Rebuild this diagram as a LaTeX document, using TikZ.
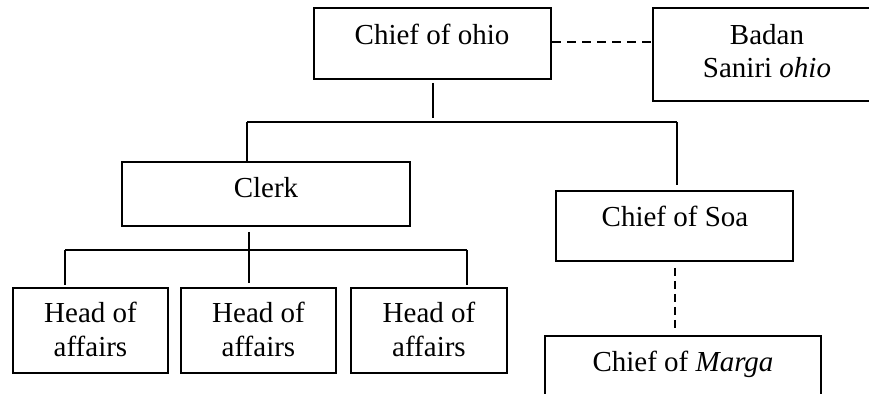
\documentclass[tikz,border=0pt]{standalone}
\usepackage{fontspec}
\setmainfont{Liberation Serif}
\usetikzlibrary{calc}
\begin{document}
\begin{tikzpicture}[x=0.5pt,y=-0.5pt,
  box/.style={draw=black, line width=1pt, inner sep=0pt},
  txt/.style={anchor=base, inner sep=0pt, font=\fontsize{14.5}{17}\selectfont},
  conn/.style={draw=black, line width=1pt},
  dashh/.style={conn, dash pattern=on 4.5pt off 3pt},
  dashv/.style={conn, dash pattern=on 4pt off 2.5pt}]
\useasboundingbox (0,0) rectangle (869,394);
\clip (0,0) rectangle (869,394);
% boxes
\node[box, minimum width=118.5pt, minimum height=35.5pt] (ohio) at (432.5,43.5) {};
\node[box, minimum width=114pt, minimum height=46.5pt] (badan) at (767,54.5) {};
\node[box, minimum width=144pt, minimum height=32pt] (clerk) at (266,194) {};
\node[box, minimum width=118.5pt, minimum height=35pt] (soa) at (674.5,226) {};
\node[box, minimum width=138pt, minimum height=39pt] (marga) at (683,375) {};
\node[box, minimum width=77.5pt, minimum height=42.5pt] (head1) at (90.5,330.5) {};
\node[box, minimum width=77.5pt, minimum height=42.5pt] (head2) at (258.5,330.5) {};
\node[box, minimum width=78pt, minimum height=42.5pt] (head3) at (429,330.5) {};
% texts
\node[txt] (ohiot) at (432,45) {Chief of ohio};
\node[txt] (badant1) at (767,45) {Badan};
\node[txt] (badant2) at (767,78) {Saniri \textit{ohio}};
\node[txt] (clerkt) at (266,198) {Clerk};
\node[txt] (soat) at (675,227) {Chief of Soa};
\node[txt] (margat) at (683,372) {Chief of \textit{Marga}};
\node[txt] (h1a) at (90.5,323) {Head of};
\node[txt] (h1b) at (90.5,357) {affairs};
\node[txt] (h2a) at (258.5,323) {Head of};
\node[txt] (h2b) at (258.5,357) {affairs};
\node[txt] (h3a) at (429,323) {Head of};
\node[txt] (h3b) at (429,357) {affairs};
% connector points
\coordinate (busL) at (247,122);
\coordinate (busR) at (677,122);
\coordinate (bus2L) at (65,250);
\coordinate (bus2R) at (467,250);
% top connectors
\draw[dashh] (ohio.east |- 0,42) -- (badan.west |- 0,42);
\draw[conn] ($(ohio.south)+(0,3)$) -- ($(ohio.south)+(0,38)$);
\draw[conn] (busL) -- (busR);
\draw[conn] (busL) -- (busL |- clerk.north);
\draw[conn] (busR) -- ($(busR |- soa.north)+(0,-5)$);
\draw[dashv] ($(soa.south)+(0,6)$) -- ($(soa.south |- marga.north)+(0,-5)$);
% clerk connectors
\draw[conn] ($(clerk.south)+(-17,5)$) -- ($(clerk.south)+(-17,56)$);
\draw[conn] (bus2L) -- (bus2R);
\draw[conn] (bus2L) -- ($(bus2L |- head1.north)+(0,-2)$);
\draw[conn] (bus2R) -- ($(bus2R |- head3.north)+(0,-2)$);
\end{tikzpicture}
\end{document}
